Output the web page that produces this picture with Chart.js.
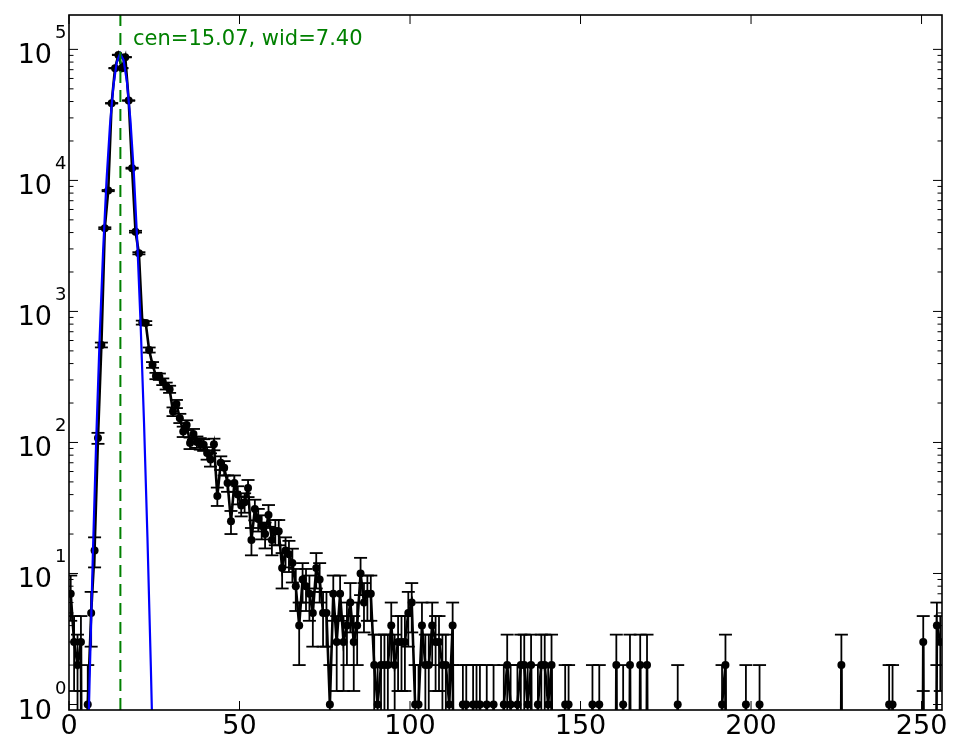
<!DOCTYPE html>
<html><head><meta charset="utf-8">
<script src="https://cdn.jsdelivr.net/npm/chart.js@4.4.0/dist/chart.umd.min.js"></script>
<style>html,body{margin:0;padding:0;background:#fff;}#wrap{width:965px;height:756px;position:relative;}</style>
</head><body><div id="wrap"><canvas id="c" width="965" height="756"></canvas></div>
<script>
// Histogram counts, one per unit-wide bin starting at 0 (bin centres at i+0.5)
const counts = [
  7,3,2,3,0,1,5,15,108,555,
  4320,8360,38800,71900,90800,71900,87200,40700,12400,4060,
  2780,822,815,508,391,322,318,291,270,255,
  172,197,153,121,136,99,116,101,98,96,
  83,74,97,39,70,64,49,25,49,40,
  33,35,45,18,31,26,23,20,28,18,
  21,21,11,15,14,12,8,4,9,8,
  7,5,11,9,5,5,1,7,3,7,
  3,4,6,3,4,10,6,7,7,2,
  1,2,2,2,4,2,3,3,3,5,
  6,1,1,4,2,2,4,3,3,2,
  2,1,4,0,0,1,1,0,1,1,
  1,0,1,0,1,0,0,1,2,1,
  0,1,2,2,1,2,0,1,2,2,
  1,2,0,0,0,1,1,0,0,0,
  0,0,0,1,0,1,0,0,0,0,
  2,0,1,0,2,0,0,2,0,2,
  0,0,0,0,0,0,0,0,1,0,
  0,0,0,0,0,0,0,0,0,0,
  0,1,2,0,0,0,0,0,1,0,
  0,0,1,0,0,0,0,0,0,0,
  0,0,0,0,0,0,0,0,0,0,
  0,0,0,0,0,0,2,0,0,0,
  0,0,0,0,0,0,0,0,0,0,
  1,1,0,0,0,0,0,0,0,0,
  3,0,0,0,4,3
];
const binStart = 0, binWidth = 1;
const binCenters = counts.map((_, i) => binStart + (i + 0.5) * binWidth);

// Gaussian fit curve
const fitX = [5,6,7,8,9,10,11,12,13,14,15,16,17,18,19,20,21,22,23,24,25];
const fitY = [0.104,1.38,14.0,108.5,639,2886,9923,26020,52120,79670,92940,82740,56220,29150,11540,3486,804,141.4,18.97,1.94,0.152];
const cen = 15.07, wid = 7.40;
const label = "cen=15.07, wid=7.40";

const xTicks = [0,50,100,150,200,250];
const yTickExps = [0,1,2,3,4,5];
const xMin = 0, xMax = 256, yMin = 0.908, yMax = 1.83e5;
const LOG_FLOOR = 1e-6; // non-positive values are clipped off the bottom, like a log-clip

function line(ctx, x1, y1, x2, y2) { ctx.beginPath(); ctx.moveTo(x1, y1); ctx.lineTo(x2, y2); ctx.stroke(); }

const errPlugin = {
  id: 'errbars',
  beforeDatasetsDraw(chart) {
    const {ctx, chartArea: a, scales: {x, y}} = chart;
    ctx.save();
    ctx.beginPath(); ctx.rect(a.left, a.top, a.right - a.left, a.bottom - a.top); ctx.clip();
    ctx.strokeStyle = '#000'; ctx.lineWidth = 1.8;
    const cw = 6.5;
    counts.forEach((v, i) => {
      if (v <= 0) return;
      const e = Math.sqrt(v);
      const px = x.getPixelForValue(binCenters[i]);
      const pHi = y.getPixelForValue(v + e);
      const lo = v - e;
      const pLo = lo > 0 ? y.getPixelForValue(lo) : a.bottom + 100;
      line(ctx, px, pHi, px, pLo);
      line(ctx, px - cw, pHi, px + cw, pHi);
      line(ctx, px - cw, pLo, px + cw, pLo);
    });
    ctx.restore();
  }
};

const axesPlugin = {
  id: 'mplAxes',
  afterDraw(chart) {
    const {ctx, chartArea: a, scales: {x, y}} = chart;
    ctx.save();
    ctx.strokeStyle = '#000'; ctx.fillStyle = '#000'; ctx.lineWidth = 1;
    const major = 9, minor = 4.5;
    // x ticks and labels
    ctx.font = '27px "DejaVu Sans"'; ctx.textAlign = 'center'; ctx.textBaseline = 'alphabetic';
    xTicks.forEach(t => {
      const px = x.getPixelForValue(t);
      line(ctx, px, a.bottom, px, a.bottom - major);
      line(ctx, px, a.top, px, a.top + major);
      ctx.fillText(String(t), px, a.bottom + 24);
    });
    // y major ticks and labels
    yTickExps.forEach(e => {
      const py = y.getPixelForValue(Math.pow(10, e));
      line(ctx, a.left, py, a.left + major, py);
      line(ctx, a.right, py, a.right - major, py);
      ctx.font = '27px "DejaVu Sans"'; ctx.textAlign = 'right';
      ctx.fillText('10', a.left - 17, py + 14);
      ctx.font = '18px "DejaVu Sans"'; ctx.textAlign = 'left';
      ctx.fillText(String(e), a.left - 14, py - 11);
    });
    // y minor ticks
    for (let e = -1; e <= 5; e++) {
      for (let m = 2; m <= 9; m++) {
        const v = m * Math.pow(10, e);
        if (v <= yMin || v >= yMax) continue;
        const py = y.getPixelForValue(v);
        line(ctx, a.left, py, a.left + minor, py);
        line(ctx, a.right, py, a.right - minor, py);
      }
    }
    // frame
    ctx.lineWidth = 1.6;
    ctx.strokeRect(a.left, a.top, a.right - a.left, a.bottom - a.top);
    // annotation
    ctx.fillStyle = '#008000';
    ctx.font = '21px "DejaVu Sans"'; ctx.textAlign = 'left'; ctx.textBaseline = 'alphabetic';
    ctx.fillText(label, x.getPixelForValue(cen + wid / 2), a.top + 30);
    ctx.restore();
  }
};

new Chart(document.getElementById('c'), {
  type: 'scatter',
  data: {
    datasets: [
      {
        label: 'center', order: 0,
        data: [{x: cen, y: yMin}, {x: cen, y: yMax}],
        showLine: true, borderColor: '#008000', borderWidth: 2, borderDash: [12, 7],
        pointRadius: 0, clip: 0
      },
      {
        label: 'fit', order: 1,
        data: fitX.map((xv, i) => ({x: xv, y: fitY[i]})),
        showLine: true, borderColor: '#0000ff', borderWidth: 2.2, pointRadius: 0, clip: 0
      },
      {
        label: 'counts', order: 2,
        data: counts.map((v, i) => ({x: binCenters[i], y: v > 0 ? v : LOG_FLOOR})),
        showLine: true, borderColor: '#000', borderWidth: 2.6,
        pointRadius: 4, pointBackgroundColor: '#000', pointBorderWidth: 0, clip: 0
      }
    ]
  },
  options: {
    responsive: false, animation: false, devicePixelRatio: 1,
    layout: {padding: {left: 69, right: 23, top: 15, bottom: 46}},
    plugins: {legend: {display: false}, tooltip: {enabled: false}},
    events: [],
    scales: {
      x: {type: 'linear', min: xMin, max: xMax, bounds: 'data', display: false},
      y: {type: 'logarithmic', min: yMin, max: yMax, bounds: 'data', display: false}
    }
  },
  plugins: [errPlugin, axesPlugin]
});
</script>
</body></html>
